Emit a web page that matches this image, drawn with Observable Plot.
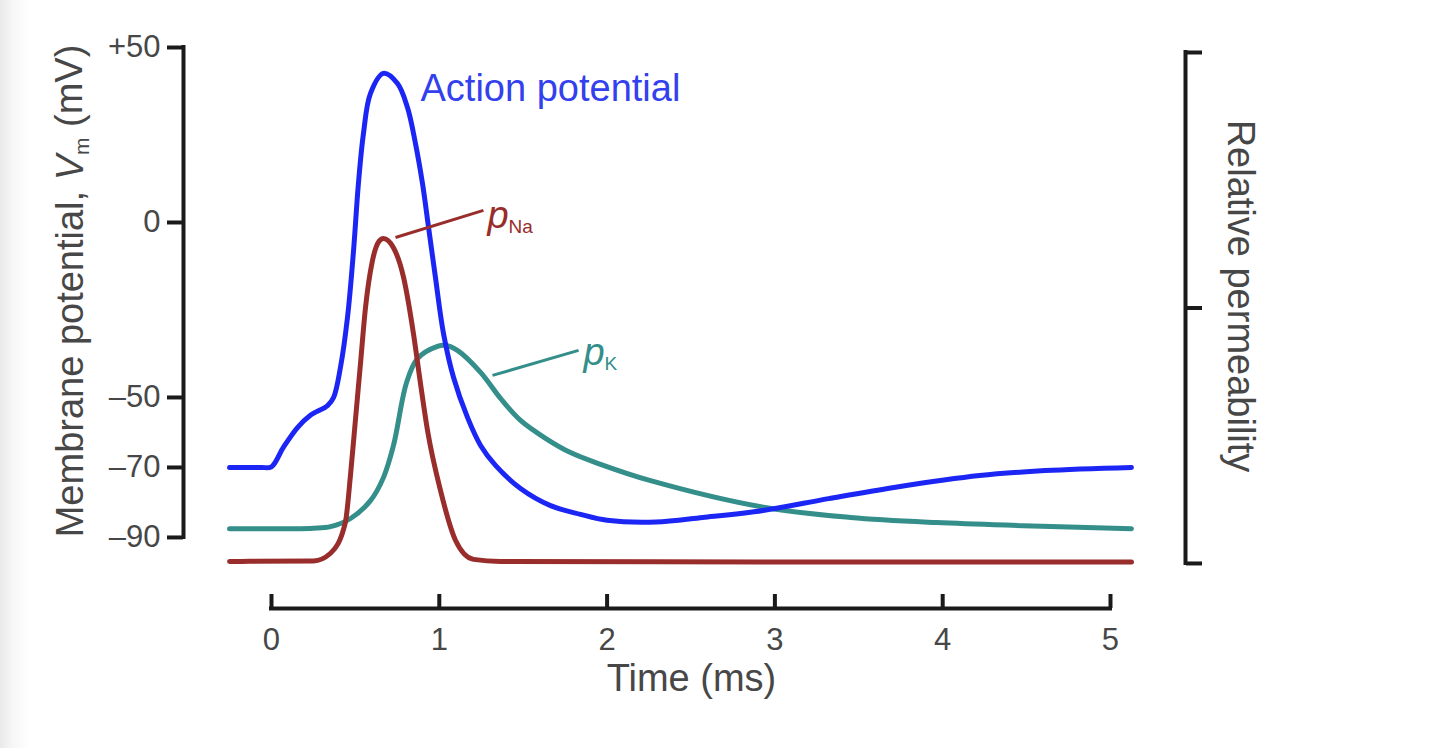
<!DOCTYPE html>
<html>
<head>
<meta charset="utf-8">
<script src="https://cdn.jsdelivr.net/npm/d3@7"></script>
<script src="https://cdn.jsdelivr.net/npm/@observablehq/plot@0.6"></script>
<style>
  html, body { margin: 0; padding: 0; }
  body {
    width: 1440px; height: 748px; overflow: hidden;
    background: linear-gradient(to right, #e9e9e9 0px, #f6f6f6 12px, #ffffff 30px);
  }
  #chart svg { display: block; }
</style>
</head>
<body>
<div id="chart"></div>
<script>
// ---- Data ----
// Action potential: time (ms) and membrane potential Vm (mV)
const apTime = [-0.25, -0.15, -0.06, 0, 0.07, 0.155, 0.232, 0.334, 0.37, 0.411, 0.453, 0.489, 0.518, 0.548, 0.59, 0.667, 0.751, 0.81, 0.858, 0.9, 0.936, 0.977, 1.025, 1.085, 1.168, 1.246, 1.335, 1.484, 1.663, 1.841, 2.0, 2.29, 2.57, 2.93, 3.32, 3.71, 4.22, 4.61, 5.125];
const apVm   = [-70, -70, -70, -69.8, -64.3, -58.6, -55.1, -52.3, -50, -41.4, -27.1, -8, 11.1, 25.4, 36.9, 42.6, 39.7, 32.9, 22.6, 11.1, -1.4, -15.7, -31.7, -44.3, -55.7, -63.7, -69.4, -76, -80.9, -83.4, -85.1, -85.6, -84.3, -82.3, -78.9, -75.7, -72.3, -70.9, -70];

// Sodium permeability (relative, 0..1 on the right bracket)
const naTime = [-0.25, 0.25, 0.352, 0.44, 0.47, 0.5, 0.53, 0.56, 0.6, 0.64, 0.667, 0.727, 0.787, 0.846, 0.888, 0.93, 1.007, 1.097, 1.204, 1.365, 2.9, 5.125];
const naPerm = [0.004, 0.005, 0.02, 0.08, 0.17, 0.28, 0.39, 0.5, 0.59, 0.63, 0.636, 0.618, 0.56, 0.45, 0.352, 0.26, 0.143, 0.045, 0.008, 0.004, 0.003, 0.003];

// Potassium permeability (relative, 0..1 on the right bracket)
const kTime = [-0.25, -0.05, 0.12, 0.25, 0.352, 0.471, 0.59, 0.667, 0.727, 0.805, 0.87, 0.989, 1.037, 1.108, 1.246, 1.365, 1.484, 1.633, 1.782, 1.961, 2.259, 2.932, 3.45, 3.963, 4.48, 5.125];
const kPerm = [0.068, 0.068, 0.068, 0.069, 0.072, 0.088, 0.123, 0.168, 0.231, 0.354, 0.401, 0.425, 0.427, 0.417, 0.374, 0.323, 0.28, 0.245, 0.217, 0.194, 0.162, 0.11, 0.09, 0.08, 0.074, 0.068];

// Axis ticks and labels
const vmTicks = [50, 0, -50, -70, -90];
const vmTickLabels = ["+50", "0", "\u201350", "\u201370", "\u201390"];
const timeTicks = [0, 1, 2, 3, 4, 5];
const permTicks = [0, 0.5, 1];

// Titles
const xTitle = "Time (ms)";
const yTitle = "Membrane potential, Vm (mV)";
const y2Title = "Relative permeability";

// Annotations (data coordinates)
const apLabel = {text: "Action potential", t: 0.888, v: 38.3};
const naLabel = {text: "pNa", t: 1.287, p: 0.681, fromT: 0.739, fromP: 0.638, toT: 1.263, toP: 0.691};
const kLabel  = {text: "pK",  t: 1.859, p: 0.413, fromT: 1.317, fromP: 0.368, toT: 1.83,  toP: 0.417};

// ---- Build tables ----
const ap = apTime.map((t, i) => ({t, v: apVm[i]}));
const na = naTime.map((t, i) => ({t, p: naPerm[i]}));
const k  = kTime.map((t, i) => ({t, p: kPerm[i]}));

// Scales
const timeDomain = [-0.5244, 5.447];
const vmDomain = [-110.3, 50];
// relative permeability mapped onto the membrane-potential scale (right bracket)
const permToVm = d3.scaleLinear().domain([0, 1]).range([-97.43, 48.57]);

const AX = "#1a1a1a";
const TXT = "#474747";
const BLUE = "#1c26f4";
const RED = "#982d2b";
const TEAL = "#348e8a";
const FONT = "'Liberation Sans', Arial, Helvetica, sans-serif";

const chart = Plot.plot({
  width: 1440,
  height: 748,
  marginLeft: 183,
  marginRight: 255,
  marginTop: 47,
  marginBottom: 140,
  style: {fontFamily: FONT, background: "transparent", color: AX, overflow: "visible"},
  x: {domain: timeDomain},
  y: {domain: vmDomain},
  marks: [
    // left axis
    Plot.ruleX([timeDomain[0]], {y1: vmTicks[vmTicks.length - 1], y2: vmTicks[0], stroke: AX, strokeWidth: 4, strokeLinecap: "square"}),
    Plot.axisY({
      ticks: vmTicks,
      tickFormat: d => vmTickLabels[vmTicks.indexOf(d)],
      tickSize: 16, tickPadding: 7, fontSize: 31,
      stroke: AX, strokeWidth: 4, fill: TXT, label: null
    }),
    // bottom axis
    Plot.ruleY([vmDomain[0]], {x1: timeTicks[0], x2: timeTicks[timeTicks.length - 1], stroke: AX, strokeWidth: 4, strokeLinecap: "square"}),
    Plot.tickX(timeTicks, {insetTop: 547, stroke: AX, strokeWidth: 4}),
    Plot.axisX({ticks: timeTicks, tickFormat: d => String(d), tickSize: 0, tickPadding: 19, fontSize: 31, fill: TXT, label: null}),
    // right bracket (relative permeability)
    Plot.ruleX([timeDomain[1]], {y1: permToVm(permTicks[0]), y2: permToVm(permTicks[permTicks.length - 1]), stroke: AX, strokeWidth: 4, strokeLinecap: "square"}),
    Plot.axisY({anchor: "right", ticks: permTicks.map(permToVm), tickFormat: () => "", tickSize: 16, stroke: AX, strokeWidth: 4, label: null}),
    // curves
    Plot.line(k, {x: "t", y: d => permToVm(d.p), stroke: TEAL, strokeWidth: 5, curve: "catmull-rom"}),
    Plot.line(na, {x: "t", y: d => permToVm(d.p), stroke: RED, strokeWidth: 5, curve: "monotone-x"}),
    Plot.line(ap, {x: "t", y: "v", stroke: BLUE, strokeWidth: 5, curve: "catmull-rom"}),
    // leader lines
    Plot.link([naLabel], {x1: "fromT", y1: d => permToVm(d.fromP), x2: "toT", y2: d => permToVm(d.toP), stroke: RED, strokeWidth: 3}),
    Plot.link([kLabel], {x1: "fromT", y1: d => permToVm(d.fromP), x2: "toT", y2: d => permToVm(d.toP), stroke: TEAL, strokeWidth: 3}),
    // annotations
    Plot.text([apLabel], {x: "t", y: "v", text: "text", textAnchor: "start", fill: "#3340ee", fontSize: 38}),
    Plot.text([naLabel], {x: "t", y: d => permToVm(d.p), text: "text", textAnchor: "start", fill: RED, fontSize: 38}),
    Plot.text([kLabel], {x: "t", y: d => permToVm(d.p), text: "text", textAnchor: "start", fill: TEAL, fontSize: 38}),
    // axis titles
    Plot.text([xTitle], {frameAnchor: "bottom", textAnchor: "middle", dx: 7, dy: 82, fontSize: 38, fill: TXT}),
    Plot.text([yTitle], {frameAnchor: "left", textAnchor: "middle", dx: -113, dy: -37, rotate: -90, fontSize: 38, fill: TXT}),
    Plot.text([y2Title], {frameAnchor: "right", textAnchor: "middle", dx: 55, dy: -32, rotate: 90, fontSize: 38, fill: TXT})
  ]
});

// Rich text: italic symbols with subscripts
const svg = d3.select(chart);
function richText(match, parts) {
  svg.selectAll("text").filter(function() { return this.textContent === match; }).each(function() {
    const el = d3.select(this);
    el.text(null);
    let shifted = false;
    parts.forEach(p => {
      const ts = el.append("tspan").text(p.s);
      if (p.italic) ts.attr("font-style", "italic");
      if (p.sub) {
        ts.attr("font-size", p.size || "60%").attr("dy", "0.3em");
        shifted = true;
      } else if (shifted) {
        ts.attr("dy", "-0.18em");
        shifted = false;
      }
    });
  });
}
richText(yTitle, [{s: "Membrane potential, "}, {s: "V", italic: true}, {s: "m", sub: true, size: "55%"}, {s: " (mV)"}]);
richText(naLabel.text, [{s: "p", italic: true}, {s: "Na", sub: true, size: "50%"}]);
richText(kLabel.text, [{s: "p", italic: true}, {s: "K", sub: true, size: "50%"}]);

document.getElementById("chart").append(chart);
</script>
</body>
</html>
